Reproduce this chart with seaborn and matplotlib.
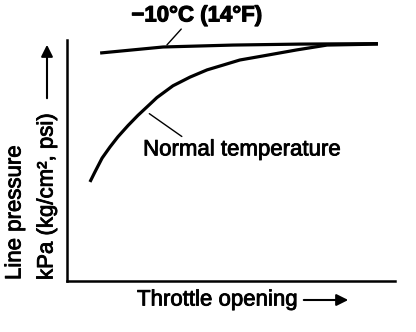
import matplotlib
matplotlib.use("Agg")
import matplotlib.pyplot as plt
import matplotlib.patheffects as pe
import seaborn as sns
import pandas as pd

sns.set_theme(style="white")
plt.rcParams['font.family'] = ['Liberation Sans', 'DejaVu Sans']

# Data (relative units, 0-100)
cold_x = [10.1, 29.3, 50.6, 71.0, 94.8]
cold_y = [94.6, 97.1, 97.9, 98.3, 98.5]
normal_x = [7.0, 8.5, 10.7, 13.1, 15.5, 18.6, 21.6, 25.3, 27.4, 32.3, 37.5,
            42.7, 47.6, 52.7, 59.8, 70.1, 79.3, 94.8]
normal_y = [41.1, 45.2, 51.0, 55.6, 59.8, 64.5, 68.7, 73.4, 76.1, 81.0, 84.6,
            87.6, 89.6, 91.7, 93.4, 95.9, 97.9, 98.3]
cold_label = "\u221210\u00b0C (14\u00b0F)"
normal_label = "Normal temperature"
x_label = "Throttle opening"
y_label1 = "Line pressure"
y_label2 = "kPa (kg/cm\u00b2, psi)"

W, H = 416, 332
fig = plt.figure(figsize=(W / 100, H / 100), dpi=100)
ax = fig.add_axes([67 / W, (H - 281) / H, (395 - 67) / W, (281 - 40) / H])

df_cold = pd.DataFrame({"x": cold_x, "y": cold_y})
df_norm = pd.DataFrame({"x": normal_x, "y": normal_y})
sns.lineplot(data=df_cold, x="x", y="y", ax=ax, color="black", linewidth=2.3,
             sort=False, solid_joinstyle="round", solid_capstyle="butt")
sns.lineplot(data=df_norm, x="x", y="y", ax=ax, color="black", linewidth=2.3,
             sort=False, solid_joinstyle="round", solid_capstyle="butt")

ax.set_xlim(0, 100)
ax.set_ylim(0, 100)
ax.set_xticks([])
ax.set_yticks([])
ax.set_xlabel("")
ax.set_ylabel("")
for s in ["top", "right"]:
    ax.spines[s].set_visible(False)
for s in ["left", "bottom"]:
    ax.spines[s].set_color("black")
    ax.spines[s].set_linewidth(1.8)

fs = 16
heavy = [pe.withStroke(linewidth=0.6, foreground="black")]
ax.annotate("", xy=(29.9, 97.1), xytext=(35.4, 105.4), xycoords="data",
            arrowprops=dict(arrowstyle="-", color="black", lw=1.0),
            annotation_clip=False)
ax.text(39.6, 110, cold_label, ha="center", va="center", fontsize=fs,
        fontweight="bold", clip_on=False, color="black",
        path_effects=[pe.withStroke(linewidth=0.8, foreground="black")])
ax.annotate("", xy=(24.4, 70.1), xytext=(35.7, 59.3), xycoords="data",
            arrowprops=dict(arrowstyle="-", color="black", lw=1.0))
ax.text(23.2, 54.4, normal_label, ha="left", va="center", fontsize=fs,
        color="black", path_effects=heavy)

# axis labels
fig.text(137 / W, (H - 300) / H, x_label, ha="left", va="center", fontsize=fs,
         color="black", path_effects=heavy)
fig.add_artist(matplotlib.patches.FancyArrowPatch(
    (301 / W, (H - 300) / H), (351 / W, (H - 300) / H), transform=fig.transFigure,
    arrowstyle="-|>,head_length=7,head_width=3.5", color="black", lw=1.5))
fig.text(15 / W, (H - 280) / H, y_label1, ha="center", va="bottom", rotation=90,
         fontsize=fs, color="black", path_effects=heavy)
fig.text(47 / W, (H - 280) / H, y_label2, ha="center", va="bottom", rotation=90,
         fontsize=fs, color="black", path_effects=heavy)
fig.add_artist(matplotlib.patches.FancyArrowPatch(
    (47 / W, (H - 101) / H), (47 / W, (H - 42) / H), transform=fig.transFigure,
    arrowstyle="-|>,head_length=7,head_width=3.5", color="black", lw=1.5))

fig.savefig("out.png", dpi=100)
